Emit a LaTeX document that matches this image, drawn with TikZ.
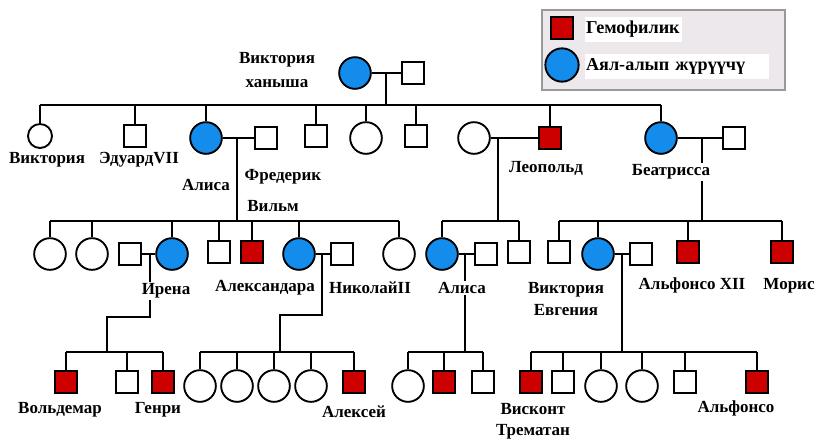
\documentclass[tikz,border=0pt]{standalone}
\usepackage{fontspec}
\setmainfont{Liberation Serif}
\usetikzlibrary{positioning, calc}
\definecolor{carblue}{RGB}{20,140,235}
\definecolor{hemred}{RGB}{205,0,0}
\definecolor{legfill}{RGB}{236,232,236}

\begin{document}
\begin{tikzpicture}[x=0.03cm, y=-0.03cm,
  line width=1.6pt,
  fem/.style={circle,draw=black,line width=1.6pt,fill=white,minimum size=0.95cm,inner sep=0pt},
  male/.style={rectangle,draw=black,line width=1.6pt,fill=white,minimum size=0.64cm,inner sep=0pt},
  carrier/.style={fem,fill=carblue},
  hemo/.style={male,fill=hemred},
  lbl/.style={font=\fontsize{14.5}{16}\selectfont\bfseries,align=center,fill=white,inner sep=1pt}
]
  \useasboundingbox (0,0) rectangle (820,439);

  % legend
  \node[draw=gray!80,line width=1.3pt,fill=legfill,minimum width=7.29cm,minimum height=2.4cm,inner sep=0pt] (leg) at (663.5,50) {};
  \node[hemo] (lhemo) at (562,28) {};
  \node[carrier,minimum size=1.0cm] (lcar) at (562,65) {};
  \node[lbl,font=\fontsize{15.5}{17}\selectfont\bfseries,anchor=west,minimum height=0.75cm,text width=2.85cm,align=left] (lt1) at (584,29) {Гемофилик};
  \node[lbl,font=\fontsize{15.5}{17}\selectfont\bfseries,anchor=west,minimum height=0.75cm,text width=5.45cm,align=left] (lt2) at (584,66) {Аял-алып жүрүүчү};

  % generation I
  \node[carrier] (vic) at (355,73) {};
  \node[male] (alb) at (413,73) {};
  \draw (vic) -- (alb);
  \coordinate (j1) at (386,73);
  \draw (j1) -- (386,105);

  % generation II
  \node[fem,minimum size=0.72cm] (vic2) at (40,136) {};
  \node[male] (edw) at (135,136) {};
  \node[carrier] (ali) at (206,138) {};
  \node[male] (lud) at (266,138) {};
  \node[male] (alf2) at (316,136) {};
  \node[fem] (hel) at (366,138) {};
  \node[male] (art) at (416,136) {};
  \node[fem] (hln) at (474,138) {};
  \node[hemo] (leo) at (550,138) {};
  \node[carrier] (bea) at (661,138) {};
  \node[male] (hen) at (734,138) {};

  \draw (vic2.north |- 0,105) -- (bea.north |- 0,105);
  \foreach \c in {vic2,edw,ali,alf2,hel,art,leo,bea}
    \draw (\c.north) -- (\c.north |- 0,105);
  \draw (ali) -- (lud);
  \draw (hln) -- (leo);
  \draw (bea) -- (hen);
  \coordinate (j2a) at (237,138);
  \coordinate (j2b) at (498,138);
  \coordinate (j2c) at (702,138);
  \draw (j2a) -- (237,221);
  \draw (j2b) -- (498,221);
  \draw (j2c) -- (702,221);

  % generation III
  \node[fem] (c3a) at (50,254) {};
  \node[fem] (c3b) at (92,254) {};
  \node[male] (irh) at (130,254) {};
  \node[carrier] (ire) at (172,254) {};
  \node[male] (wal) at (219,252) {};
  \node[hemo] (fri) at (252,252) {};
  \node[carrier] (alx) at (299,254) {};
  \node[male] (nik) at (342,254) {};
  \node[fem] (c3c) at (399,254) {};
  \node[carrier] (ali3) at (442,254) {};
  \node[male] (ali3h) at (486,254) {};
  \node[male] (sq3b) at (519,252) {};
  \node[male] (sq3c) at (559,252) {};
  \node[carrier] (vev) at (598,254) {};
  \node[male] (vevh) at (641,254) {};
  \node[hemo] (alf12) at (688,252) {};
  \node[hemo] (mor) at (782,252) {};

  \draw (c3a.north |- 0,221) -- (c3c.north |- 0,221);
  \draw (ali3.north |- 0,221) -- (sq3b.north |- 0,221);
  \draw (sq3c.north |- 0,221) -- (mor.north |- 0,221);
  \foreach \c in {c3a,c3b,ire,wal,fri,alx,c3c,ali3,sq3b,sq3c,vev,alf12,mor}
    \draw (\c.north) -- (\c.north |- 0,221);
  \draw (irh) -- (ire);
  \draw (alx) -- (nik);
  \draw (ali3) -- (ali3h);
  \draw (vev) -- (vevh);
  \coordinate (j3a) at (150,254);
  \coordinate (j3b) at (322,254);
  \coordinate (j3c) at (465,254);
  \coordinate (j3d) at (622,254);
  \draw (j3a) -- (150,317) -- (107,317) -- (107,352);
  \draw (j3b) -- (322,315) -- (280,315) -- (280,352);
  \draw (j3c) -- (465,352);
  \draw (j3d) -- (622,352);

  % generation IV
  \node[hemo] (vol) at (66,382) {};
  \node[male] (sq4a) at (127,382) {};
  \node[hemo] (hnr) at (163,382) {};
  \node[fem] (c4a) at (200,386) {};
  \node[fem] (c4b) at (237,386) {};
  \node[fem] (c4c) at (274,386) {};
  \node[fem] (c4d) at (311,386) {};
  \node[hemo] (alk) at (354,382) {};
  \node[fem] (c4e) at (408,386) {};
  \node[hemo] (rup) at (444,382) {};
  \node[male] (sq4b) at (483,382) {};
  \node[hemo] (vis) at (531,382) {};
  \node[male] (sq4c) at (563,382) {};
  \node[fem] (c4f) at (601,386) {};
  \node[fem] (c4g) at (642,386) {};
  \node[male] (sq4d) at (685,382) {};
  \node[hemo] (alfo) at (757,382) {};

  \draw (vol.north |- 0,352) -- (hnr.north |- 0,352);
  \draw (c4a.north |- 0,352) -- (alk.north |- 0,352);
  \draw (c4e.north |- 0,352) -- (sq4b.north |- 0,352);
  \draw (vis.north |- 0,352) -- (alfo.north |- 0,352);
  \foreach \c in {vol,sq4a,hnr,c4a,c4b,c4c,c4d,alk,c4e,rup,sq4b,vis,sq4c,c4f,c4g,sq4d,alfo}
    \draw (\c.north) -- (\c.north |- 0,352);

  % labels
  \node[lbl] (tvic) at (277,70) {Виктория\\[5pt]ханыша};
  \node[lbl] (tvic2) at (47,160) {Виктория};
  \node[lbl] (tedw) at (139,160) {ЭдуардVII};
  \node[lbl] (tali) at (206,185) {Алиса};
  \node[lbl] (tfre) at (283,177) {Фредерик};
  \node[lbl] (twil) at (273,206) {Вильм};
  \node[lbl] (tleo) at (546,168) {Леопольд};
  \node[lbl] (tbea) at (671,172) {Беатрисса};
  \node[lbl] (tire) at (166,291) {Ирена};
  \node[lbl] (talx) at (265,288) {Александара};
  \node[lbl] (tnik) at (370,288) {НиколайII};
  \node[lbl] (tali3) at (462,288) {Алиса};
  \node[lbl] (tvev) at (566,299) {Виктория\\[2pt]Евгения};
  \node[lbl] (talf12) at (692,285) {Альфонсо XII};
  \node[lbl] (tmor) at (789,286) {Морис};
  \node[lbl] (tvol) at (60,410) {Вольдемар};
  \node[lbl] (thnr) at (158,410) {Генри};
  \node[lbl] (talk) at (354,412) {Алексей};
  \node[lbl] (tvis) at (533,421) {Висконт\\[2pt]Трематан};
  \node[lbl] (talfo) at (736,408) {Альфонсо};
\end{tikzpicture}
\end{document}
